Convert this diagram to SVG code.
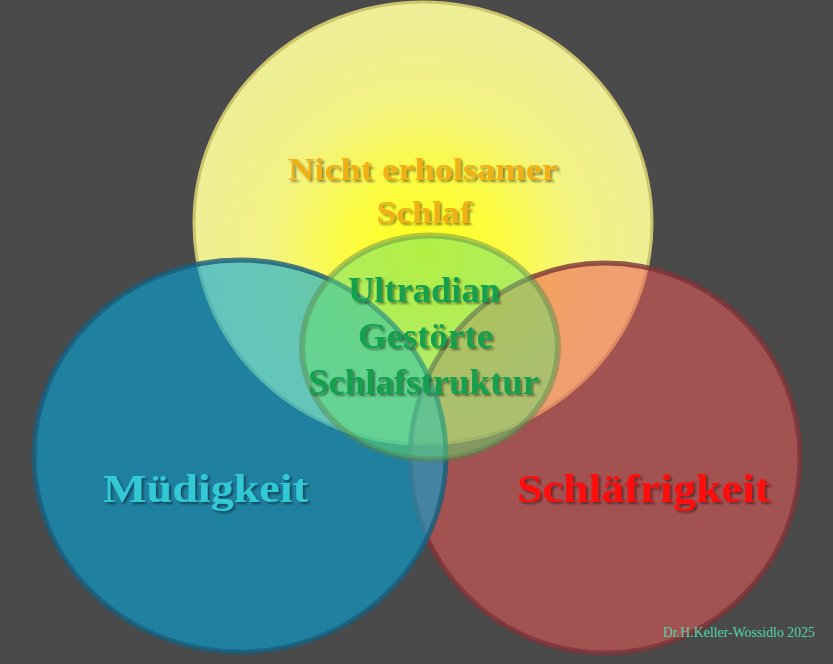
<svg xmlns="http://www.w3.org/2000/svg" width="833" height="664" viewBox="0 0 833 664">
  <defs>
    <radialGradient id="yellowGrad" gradientUnits="userSpaceOnUse" cx="425" cy="255" r="235">
      <stop offset="0" stop-color="#ffff18"/>
      <stop offset="0.35" stop-color="#fbfb44"/>
      <stop offset="0.66" stop-color="#f3f382"/>
      <stop offset="1" stop-color="#eeee96"/>
    </radialGradient>
    <filter id="shadow" x="-10%" y="-30%" width="120%" height="160%">
      <feDropShadow dx="2" dy="2" stdDeviation="1" flood-color="#000" flood-opacity="0.45"/>
    </filter>
    <style>
      .lbl { font-family: "Liberation Serif", "Times New Roman", serif; font-weight: bold; text-anchor: middle; filter: url(#shadow); }
      .sig { font-family: "Liberation Serif", "Times New Roman", serif; fill: #4fd4a8; }
    </style>
  </defs>

  <rect x="0" y="0" width="833" height="664" fill="#4a4a4a"/>

  <g id="node-yellow">
    <ellipse cx="423" cy="223" rx="229" ry="221" fill="url(#yellowGrad)" stroke="#cbc46c" stroke-width="3"/>
    <text class="lbl" x="423" y="180" font-size="32" fill="#f0b014" textLength="270" lengthAdjust="spacingAndGlyphs">Nicht erholsamer</text>
    <text class="lbl" x="424" y="223" font-size="32" fill="#f0b014" textLength="95" lengthAdjust="spacingAndGlyphs">Schlaf</text>
  </g>

  <g id="node-red">
    <ellipse cx="605" cy="458" rx="195" ry="195" fill="#ef5959" fill-opacity="0.54" stroke="#7a3438" stroke-opacity="0.8" stroke-width="5"/>
    <text class="lbl" x="643.5" y="502" font-size="40" fill="#ff0a0a" textLength="253" lengthAdjust="spacingAndGlyphs">Schläfrigkeit</text>
  </g>

  <g id="node-blue">
    <ellipse cx="240" cy="456" rx="206" ry="196" fill="#01a6dc" fill-opacity="0.59" stroke="#1a5c7a" stroke-opacity="0.8" stroke-width="5"/>
    <text class="lbl" x="205.5" y="502" font-size="39" fill="#33c8d4" textLength="205" lengthAdjust="spacingAndGlyphs">Müdigkeit</text>
  </g>

  <g id="node-green">
    <ellipse cx="430" cy="347.5" rx="128" ry="112" fill="#66e070" fill-opacity="0.5" stroke="#56854a" stroke-opacity="0.45" stroke-width="6"/>
    <text class="lbl" x="424" y="302" font-size="35" fill="#12a04e" textLength="152" lengthAdjust="spacingAndGlyphs">Ultradian</text>
    <text class="lbl" x="425.5" y="348" font-size="35" fill="#12a04e" textLength="135" lengthAdjust="spacingAndGlyphs">Gestörte</text>
    <text class="lbl" x="423.5" y="394" font-size="35" fill="#12a04e" textLength="231" lengthAdjust="spacingAndGlyphs">Schlafstruktur</text>
  </g>

  <g id="connectors"/>

  <text class="sig" x="663" y="637" font-size="15" textLength="152" lengthAdjust="spacingAndGlyphs">Dr.H.Keller-Wossidlo 2025</text>
</svg>
